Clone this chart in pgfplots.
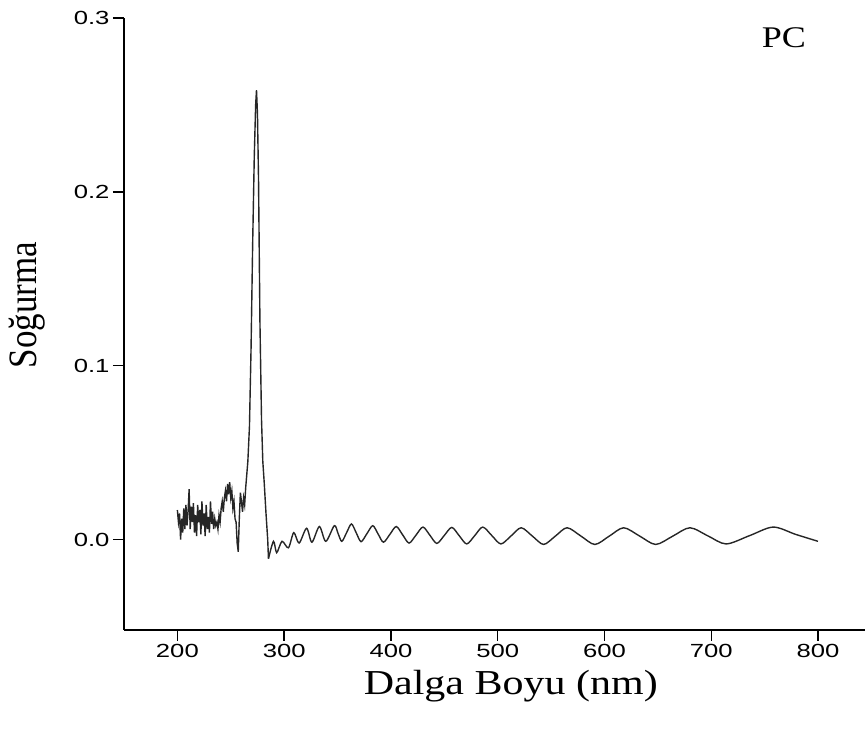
\documentclass[border=0pt]{standalone}
\usepackage{fontspec}
\setmainfont{Liberation Serif}
\newfontfamily\tickfont{Liberation Sans}[FakeStretch=1.35]
\newfontfamily\labfont{Liberation Serif}[FakeStretch=1.2]
\usepackage{pgfplots}
\pgfplotsset{compat=1.18}
\begin{document}
\begin{tikzpicture}
\begin{axis}[
  name=ax,
  scale only axis,
  width=741pt, height=612pt,
  xmin=150, xmax=844, ymin=-0.052, ymax=0.3,
  axis x line*=bottom, axis y line*=left,
  axis line style={line width=1.6pt, black},
  tick align=outside,
  major tick length=11pt,
  tick style={line width=1.4pt, black},
  xtick={200,300,...,800},
  ytick={0,0.1,0.2,0.3},
  /pgf/number format/assume math mode=true,
  yticklabel style={/pgf/number format/fixed, /pgf/number format/precision=1, /pgf/number format/zerofill},
  ticklabel style={font=\tickfont\fontsize{19}{19}\selectfont},
  xlabel={Dalga Boyu (nm)},
  xlabel style={font=\labfont\fontsize{35}{35}\selectfont, at={(axis description cs:0.522,-0.0915)}, anchor=center},
  ylabel={\scalebox{1}[1.15]{Soğurma}},
  ylabel style={font=\fontsize{35}{35}\selectfont, at={(axis description cs:-0.131,0.531)}, anchor=center},
  clip=false,
]
\addplot[line width=1.4pt, color=black!85] coordinates {
(200,0.017)(201,0.010)(202,0.015)(203,0.000)(204,0.012)(205,0.004)(206,0.018)(207,0.006)
(208,0.020)(209,0.008)(210,0.016)(211,0.029)(212,0.006)(213,0.019)(214,0.010)(215,0.021)
(216,0.004)(217,0.014)(218,0.002)(219,0.020)(220,0.010)(221,0.017)(222,0.003)(223,0.022)
(224,0.008)(225,0.015)(226,0.002)(227,0.020)(228,0.006)(229,0.013)(230,0.004)(231,0.022)
(232,0.009)(233,0.016)(234,0.006)(235,0.012)(236,0.008)(237,0.010)(238,0.006)(239,0.014)
(240,0.010)(241,0.018)(242,0.022)(243,0.016)(244,0.024)(245,0.028)(246,0.022)(247,0.032)
(248,0.026)(249,0.033)(250,0.024)(251,0.028)(252,0.018)(253,0.022)(254,0.012)(255,0.010)
(256,-0.002)(257,-0.007)(258,0.012)(259,0.027)(260,0.022)(261,0.016)(262,0.024)(263,0.020)
(264,0.030)(266,0.045)(267.5,0.065)(269,0.11)(270.5,0.17)(272,0.22)(273.3,0.25)(274.1,0.2585)
(275,0.245)(276,0.207)(277.3,0.126)(278.8,0.069)(280,0.045)(281.3,0.033)(283,0.015)(284.6,0.0)(285.3,-0.011)
};
\addplot[line width=1.4pt, color=black!85, smooth] coordinates {
(285.3,-0.011)(290,-0.001)(293,-0.0075)(298,-0.001)(304,-0.0047)(309,0.004)(314,-0.002)
(321,0.0065)(326,-0.0015)(333,0.0075)(339,-0.001)
(347,0.008)(350.5,0.0035)(354,-0.001)(358.5,0.004)(363,0.009)(367.5,0.0039)(372,-0.0012)
(377.5,0.0034)(383,0.008)(388,0.0032)(393,-0.0015)(399,0.003)(405,0.0075)(411,0.0027)
(417,-0.002)(423.5,0.0026)(430,0.0072)(436.5,0.0025)(443,-0.0022)(450,0.0024)(457,0.007)
(464,0.0022)(471,-0.0025)(478.5,0.0023)(486,0.0072)(494.5,0.0023)(503,-0.0025)(512.5,0.0021)
(522,0.0068)(532.5,0.002)(543,-0.0028)(554,0.002)(565,0.0068)(578,0.002)(591,-0.0028)
(604.5,0.002)(618,0.0068)(633,0.002)(648,-0.0028)(664,0.002)(680,0.0068)(697,0.0021)
(714,-0.0025)(736,0.0023)(758,0.0072)(779,0.003)(800,-0.001)
};
\node[font=\labfont\fontsize{30}{30}\selectfont] at (axis cs:768,0.2885) {PC};
\end{axis}
\pgfresetboundingbox
\path (ax.south west) ++(-124pt,-103pt) rectangle ++(865pt,733pt);
\end{tikzpicture}
\end{document}
